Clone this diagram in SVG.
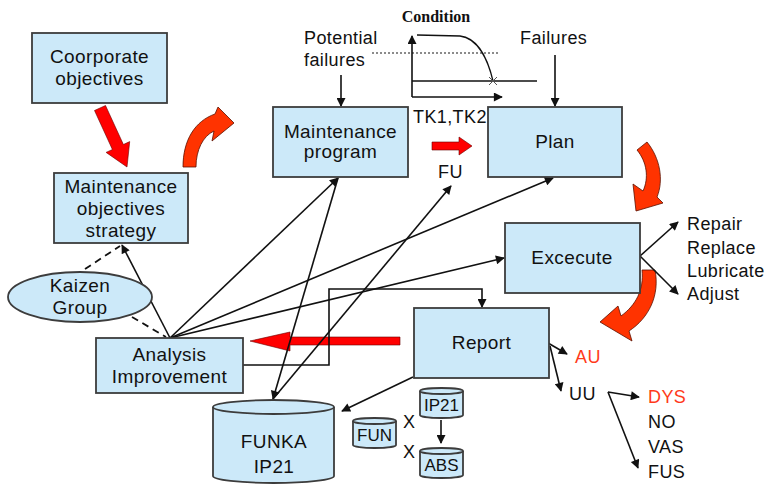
<svg xmlns="http://www.w3.org/2000/svg" width="775" height="487" viewBox="0 0 775 487">
  <style>
    .box { fill: #cce9f9; stroke: #3c3c3c; stroke-width: 1.8; }
    .t { font-family: "Liberation Sans", Arial, sans-serif; font-size: 19px; fill: #111; text-anchor: middle; letter-spacing: 0.4px; }
    .tl { font-family: "Liberation Sans", Arial, sans-serif; font-size: 18px; fill: #111; letter-spacing: 0.4px; }
    .ts { font-family: "Liberation Sans", Arial, sans-serif; font-size: 17px; fill: #111; text-anchor: middle; }
    .red { fill: #ff3a1a; }
    .ln { fill: none; stroke: #111; stroke-width: 1.6; }
    .dash { fill: none; stroke: #111; stroke-width: 1.8; stroke-dasharray: 7 5; }
    .bigred { fill: #ff0000; stroke: #600; stroke-width: 0.6; }
    .curl { fill: #ff3300; stroke: #5a1000; stroke-width: 0.8; }
  </style>
  <defs>
    <marker id="ah" viewBox="0 0 10 10" refX="9" refY="5" markerWidth="11" markerHeight="9" markerUnits="userSpaceOnUse" orient="auto">
      <path d="M0,0 L10,5 L0,10 Z" fill="#111"/>
    </marker>
  </defs>

  <rect width="775" height="487" fill="#ffffff"/>

  <!-- condition curve chart -->
  <g id="condition-chart">
    <text x="436" y="22" font-family="Liberation Serif, Times New Roman, serif" font-size="16" font-weight="bold" text-anchor="middle" fill="#111">Condition</text>
    <line x1="372" y1="53" x2="500" y2="53" stroke="#666" stroke-width="1.6" stroke-dasharray="2 2"/>
    <line class="ln" x1="412" y1="97" x2="412" y2="36" marker-end="url(#ah)"/>
    <line class="ln" x1="412" y1="97" x2="502" y2="97" marker-end="url(#ah)"/>
    <line x1="412" y1="81" x2="537" y2="81" stroke="#111" stroke-width="1.6"/>
    <path d="M417,35 L460,36 C478,38 488,60 493,81" fill="none" stroke="#111" stroke-width="1.3"/>
    <path d="M489,77 L497,85 M497,77 L489,85" stroke="#555" stroke-width="1"/>
  </g>

  <!-- free labels -->
  <g id="labels">
    <text class="tl" x="304" y="44">Potential</text>
    <text class="tl" x="304" y="66">failures</text>
    <text class="tl" x="520" y="44">Failures</text>
    <text class="tl" x="413" y="123">TK1,TK2</text>
    <text class="tl" x="438" y="178">FU</text>
    <text class="tl" x="687" y="230">Repair</text>
    <text class="tl" x="687" y="254">Replace</text>
    <text class="tl" x="687" y="277">Lubricate</text>
    <text class="tl" x="687" y="300">Adjust</text>
    <text class="tl red" x="575" y="363">AU</text>
    <text class="tl" x="569" y="400">UU</text>
    <text class="tl red" x="648" y="403">DYS</text>
    <text class="tl" x="648" y="428">NO</text>
    <text class="tl" x="648" y="453">VAS</text>
    <text class="tl" x="648" y="478">FUS</text>
    <text class="tl" x="403" y="428">X</text>
    <text class="tl" x="403" y="458">X</text>
  </g>

  <!-- red flow arrows -->
  <g id="flow-arrows">
    <polygon class="bigred" points="94.5,110.5 112.4,149.5 106.1,152.4 127,167 129.7,141.6 123.4,144.5 105.5,105.5"/>
    <polygon class="bigred" points="432,142 459,142 459,137 472,146 459,155 459,150 432,150"/>
    <polygon class="bigred" points="400,337 290,337 290,332 250,341 290,351 290,345 400,345"/>
    <path class="curl" d="M183,167 C183,140 195,121 215,114 L218,107 L234,123 L212,141 L214,131 C203,136 196,150 196,167 Z"/>
    <path class="curl" d="M647,142 C660,158 664,180 657,197 L663,203 L636,211 L633,184 L643,191 C649,178 647,162 637,150 Z"/>
    <path class="curl" d="M655,270 C660,295 649,318 629,331 L632,341 L600,322 L618,306 L621,316 C636,305 644,290 642,270 Z"/>
  </g>

  <!-- connectors -->
  <g id="connectors">
    <line class="ln" x1="341" y1="75" x2="341" y2="106" marker-end="url(#ah)"/>
    <line class="ln" x1="555" y1="55" x2="555" y2="106" marker-end="url(#ah)"/>
    <line class="ln" x1="170" y1="338" x2="122" y2="245" marker-end="url(#ah)"/>
    <line class="dash" x1="85" y1="269" x2="120" y2="246"/>
    <line class="dash" x1="132" y1="317" x2="166" y2="337"/>
    <line class="ln" x1="170" y1="338" x2="338" y2="178" marker-end="url(#ah)"/>
    <line class="ln" x1="170" y1="338" x2="553" y2="178" marker-end="url(#ah)"/>
    <line class="ln" x1="170" y1="338" x2="504" y2="258" marker-end="url(#ah)"/>
    <line class="ln" x1="338" y1="178" x2="273" y2="399" marker-end="url(#ah)"/>
    <line class="ln" x1="273" y1="399" x2="451" y2="186" marker-end="url(#ah)"/>
    <polyline class="ln" points="243,365 329,365 329,289 482,289 482,307" marker-end="url(#ah)"/>
    <line class="ln" x1="413" y1="377" x2="342" y2="411" marker-end="url(#ah)"/>
    <line class="ln" x1="548" y1="343" x2="567" y2="354" marker-end="url(#ah)"/>
    <line class="ln" x1="550" y1="346" x2="561" y2="391" marker-end="url(#ah)"/>
    <line class="ln" x1="608" y1="392" x2="639" y2="397" marker-end="url(#ah)"/>
    <line class="ln" x1="608" y1="392" x2="638" y2="468" marker-end="url(#ah)"/>
    <line class="ln" x1="640" y1="256" x2="678" y2="222" marker-end="url(#ah)"/>
    <line class="ln" x1="640" y1="256" x2="678" y2="294" marker-end="url(#ah)"/>
    <line class="ln" x1="441" y1="420" x2="441" y2="443" marker-end="url(#ah)"/>
  </g>

  <!-- nodes -->
  <g id="corporate-objectives">
    <rect class="box" x="32" y="33" width="135" height="70"/>
    <text class="t" x="99.5" y="63">Coorporate</text>
    <text class="t" x="99.5" y="85">objectives</text>
  </g>
  <g id="maintenance-objectives">
    <rect class="box" x="54" y="173" width="134" height="70"/>
    <text class="t" x="121" y="193">Maintenance</text>
    <text class="t" x="121" y="215">objectives</text>
    <text class="t" x="121" y="237">strategy</text>
  </g>
  <g id="maintenance-program">
    <rect class="box" x="273" y="107" width="135" height="70"/>
    <text class="t" x="340.5" y="138">Maintenance</text>
    <text class="t" x="340.5" y="158">program</text>
  </g>
  <g id="plan">
    <rect class="box" x="488" y="107" width="134" height="70"/>
    <text class="t" x="555" y="148">Plan</text>
  </g>
  <g id="execute">
    <rect class="box" x="505" y="223" width="135" height="70"/>
    <text class="t" x="572" y="264">Excecute</text>
  </g>
  <g id="report">
    <rect class="box" x="414" y="308" width="135" height="70"/>
    <text class="t" x="481.5" y="349">Report</text>
  </g>
  <g id="analysis-improvement">
    <rect class="box" x="96" y="338" width="147" height="55"/>
    <text class="t" x="169.5" y="361">Analysis</text>
    <text class="t" x="169.5" y="383">Improvement</text>
  </g>
  <g id="kaizen-group">
    <ellipse class="box" cx="80" cy="297" rx="72" ry="25"/>
    <text class="t" x="80" y="292">Kaizen</text>
    <text class="t" x="80" y="314">Group</text>
  </g>
  <g id="funka-ip21">
    <path class="box" d="M213,407 L213,476 A60.5,7 0 0 0 334,476 L334,407"/>
    <ellipse class="box" cx="273.5" cy="407" rx="60.5" ry="7"/>
    <text class="t" x="274" y="448">FUNKA</text>
    <text class="t" x="274" y="473">IP21</text>
  </g>
  <g id="fun">
    <path class="box" d="M353,421 L353,445 A21.5,3 0 0 0 396,445 L396,421"/>
    <ellipse class="box" cx="374.5" cy="421" rx="21.5" ry="3"/>
    <text class="ts" x="374.5" y="441">FUN</text>
  </g>
  <g id="ip21">
    <path class="box" d="M420,391 L420,415 A21.5,3 0 0 0 463,415 L463,391"/>
    <ellipse class="box" cx="441.5" cy="391" rx="21.5" ry="3"/>
    <text class="ts" x="441.5" y="411">IP21</text>
  </g>
  <g id="abs">
    <path class="box" d="M420,451 L420,475 A21.5,3 0 0 0 463,475 L463,451"/>
    <ellipse class="box" cx="441.5" cy="451" rx="21.5" ry="3"/>
    <text class="ts" x="441.5" y="471">ABS</text>
  </g>
</svg>
